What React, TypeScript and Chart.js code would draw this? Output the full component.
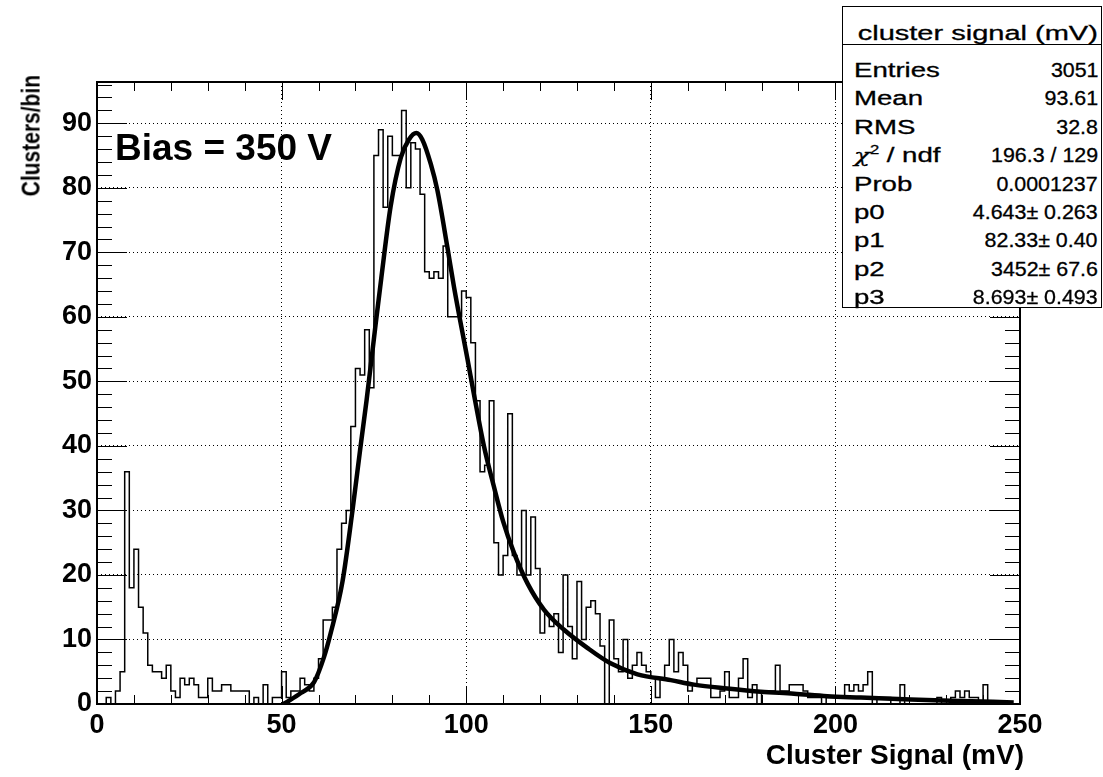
import React, { useEffect, useRef } from "react";
import { Chart, registerables } from "chart.js";

Chart.register(...registerables);

// ---------- data ----------
const binWidth = 1.25; // mV per bin, 200 bins from 0 to 250 mV
const counts: number[] = [
  0, 0, 0, 1, 0, 2, 5, 36, 18, 24,
  15, 11, 6, 5, 5, 4, 6, 2, 1, 4,
  3, 4, 3, 1, 1, 4, 2, 2, 3, 3,
  2, 2, 2, 2, 0, 1, 0, 3, 0, 1,
  1, 5, 1, 2, 2, 4, 3, 2, 4, 7,
  13, 13, 15, 24, 28, 30, 43, 52, 51, 58,
  49, 85, 89, 77, 88, 85, 85, 92, 80, 87,
  86, 79, 67, 66, 67, 66, 71, 60, 60, 60,
  64, 63, 56, 47, 36, 37, 47, 25, 20, 23,
  45, 23, 20, 30, 20, 29, 21, 11, 14, 12,
  14, 8, 20, 12, 7, 19, 10, 15, 16, 14,
  9, 0, 13, 7, 5, 10, 4, 6, 8, 6,
  5, 4, 1, 4, 6, 10, 5, 8, 6, 2,
  3, 4, 4, 4, 1, 1, 2, 5, 1, 1,
  4, 7, 1, 3, 0, 2, 2, 2, 6, 2,
  2, 3, 3, 3, 2, 1, 1, 1, 0, 1,
  1, 1, 1, 3, 2, 3, 2, 3, 5, 0,
  1, 1, 1, 0, 0, 3, 0, 0, 0, 0,
  0, 0, 0, 1, 0, 0, 1, 2, 1, 2,
  1, 1, 0, 3, 0, 0, 0, 0, 0, 0,
];

const fitX: number[] = [
  50.5, 52, 55.2, 58.8, 61.5, 63.3, 66.5, 69.2, 71.4, 73, 75.5, 77, 79.5, 82.3,
  84.5, 86.5, 88.1, 90.4, 92.2, 94.9, 96.7, 100.3, 102.1, 104.8, 107.5, 110,
  112.9, 116.6, 121.1, 126.5, 132.8, 139.1, 146.4, 155.4, 161.7, 170.7, 179.8,
  188.8, 197.8, 206.9, 220.4, 231.2, 248.3,
];
const fitY: number[] = [
  0, 0.5, 1.7, 3.4, 7.3, 11, 19, 30, 40, 47, 59, 66, 77, 84.7,
  87.5, 88.5, 87.5, 83.7, 79.6, 70.8, 64.6, 53.6, 48, 40, 33.7, 28.3,
  23.5, 18.7, 14.6, 11.5, 8.7, 6.3, 4.6, 3.7, 3.0, 2.4, 1.9,
  1.6, 1.2, 1.0, 0.7, 0.5, 0.25,
];

const xMin = 0;
const xMax = 250;
const yMin = 0;
const yMax = 96.4;
const xMajorStep = 50;
const xMinorStep = 10;
const yMajorStep = 10;
const yMinorStep = 2;

const xTitle = "Cluster Signal (mV)";
const yTitle = "Clusters/bin";
const annotation = "Bias = 350 V";
const statsTitle = "cluster signal (mV)";
const statsLabels: string[] = ["Entries", "Mean", "RMS", "CHI2", "Prob", "p0", "p1", "p2", "p3"];
const statsValues: string[] = [
  "3051", "93.61", "32.8", "196.3 / 129", "0.0001237",
  "4.643\u00b1 0.263", "82.33\u00b1 0.40", "3452\u00b1 67.6", "8.693\u00b1 0.493",
];

// ---------- plugin: ROOT-style frame and inward ticks ----------
const frameTicks = {
  id: "frameTicks",
  afterDatasetsDraw(chart: any) {
    const { ctx, chartArea: a, scales } = chart;
    const x = scales.x;
    const y = scales.y;
    ctx.save();
    ctx.strokeStyle = "#000";
    ctx.lineWidth = 1;
    ctx.beginPath();
    for (let v = yMin; v <= yMax + 1e-9; v += yMinorStep) {
      const py = Math.round(y.getPixelForValue(v)) + 0.5;
      const len = Math.abs(v % yMajorStep) < 1e-6 ? 30 : 15;
      ctx.moveTo(a.left, py);
      ctx.lineTo(a.left + len, py);
      ctx.moveTo(a.right, py);
      ctx.lineTo(a.right - len, py);
    }
    for (let v = xMin; v <= xMax + 1e-9; v += xMinorStep) {
      const px = Math.round(x.getPixelForValue(v)) + 0.5;
      const len = Math.abs(v % xMajorStep) < 1e-6 ? 18 : 9;
      ctx.moveTo(px, a.bottom);
      ctx.lineTo(px, a.bottom - len);
      ctx.moveTo(px, a.top);
      ctx.lineTo(px, a.top + len);
    }
    ctx.stroke();
    ctx.lineWidth = 2;
    ctx.strokeRect(a.left, a.top, a.right - a.left, a.bottom - a.top);
    ctx.restore();
  },
};

const tickFont = { family: "'Liberation Sans', Arial, sans-serif", size: 27, weight: "bold" as const };

function HistChart() {
  const ref = useRef<HTMLCanvasElement | null>(null);
  useEffect(() => {
    if (!ref.current) return;
    const histPoints = counts.map((c, i) => ({ x: i * binWidth, y: c }));
    histPoints.push({ x: counts.length * binWidth, y: counts[counts.length - 1] });
    const fitPoints = fitX.map((xv, i) => ({ x: xv, y: fitY[i] }));

    const chart = new Chart(ref.current, {
      type: "line",
      data: {
        datasets: [
          {
            label: "fit",
            data: fitPoints,
            borderColor: "#000",
            borderWidth: 4.5,
            pointRadius: 0,
            cubicInterpolationMode: "monotone",
            fill: false,
          },
          {
            label: "cluster signal",
            data: histPoints,
            borderColor: "#000",
            borderWidth: 1.5,
            pointRadius: 0,
            stepped: "after",
            fill: false,
          },
        ],
      },
      options: {
        responsive: false,
        animation: false,
        devicePixelRatio: 1,
        layout: { padding: { top: 82, right: 83, left: 0, bottom: 0 } },
        plugins: { legend: { display: false }, tooltip: { enabled: false } },
        scales: {
          x: {
            type: "linear",
            min: xMin,
            max: xMax,
            afterFit: (s: any) => { s.height = 73; },
            ticks: {
              stepSize: xMajorStep,
              color: "#000",
              font: tickFont,
              padding: 5,
              maxRotation: 0,
              includeBounds: false,
            },
            grid: { color: "#000", lineWidth: 1, drawTicks: false },
            border: { display: false, dash: [1, 3] },
          },
          y: {
            type: "linear",
            min: yMin,
            max: yMax,
            afterFit: (s: any) => { s.width = 97; },
            ticks: {
              stepSize: yMajorStep,
              color: "#000",
              font: tickFont,
              padding: 5,
              includeBounds: false,
            },
            grid: { color: "#000", lineWidth: 1, drawTicks: false },
            border: { display: false, dash: [1, 3] },
          },
        },
      },
      plugins: [frameTicks],
    });
    return () => chart.destroy();
  }, []);
  return <canvas ref={ref} width={1103} height={777} style={{ display: "block" }} />;
}

const sans = "'Liberation Sans', Arial, Helvetica, sans-serif";

function StatsBox() {
  const top = 6;
  const rowCenter0 = 69;
  const rowStep = 28.4;
  return (
    <div
      style={{
        position: "absolute",
        left: 842,
        top: top,
        width: 260,
        height: 302,
        border: "1.5px solid #000",
        boxSizing: "border-box",
        background: "#fff",
        fontFamily: sans,
        fontSize: 20,
        color: "#000",
        WebkitTextStroke: "0.3px #000",
      }}
    >
      <div
        style={{
          position: "absolute",
          left: 0,
          right: 0,
          top: 14,
          height: 24,
          lineHeight: "24px",
          textAlign: "center",
          whiteSpace: "nowrap",
        }}
      >
        <span style={{ display: "inline-block", transform: "translateX(6px) scaleX(1.45)" }}>{statsTitle}</span>
      </div>
      <div style={{ position: "absolute", left: 0, right: 0, top: 37, borderTop: "1.5px solid #000" }} />
      {statsLabels.map((lab, k) => (
        <div
          key={lab}
          style={{
            position: "absolute",
            left: 11,
            right: 3,
            top: rowCenter0 - top - 14 + k * rowStep,
            height: 28,
            lineHeight: "28px",
            whiteSpace: "nowrap",
          }}
        >
          <span
            style={{
              position: "absolute",
              left: 0,
              top: 0,
              display: "inline-block",
              transformOrigin: "left center",
              transform: "scaleX(1.38)",
            }}
          >
            {lab === "CHI2" ? (
              <>
                <i style={{ fontFamily: "'DejaVu Serif', serif", fontSize: 19 }}>{"\u03c7"}</i>
                <span style={{ fontSize: 12, position: "relative", top: -8 }}>2</span>
                {" / ndf"}
              </>
            ) : (
              lab
            )}
          </span>
          <span
            style={{
              position: "absolute",
              right: 0,
              top: 0,
              display: "inline-block",
              transformOrigin: "right center",
              transform: "scaleX(1.07)",
            }}
          >
            {statsValues[k]}
          </span>
        </div>
      ))}
    </div>
  );
}

export default function App() {
  return (
    <div
      style={{
        position: "absolute",
        left: 0,
        top: 0,
        width: 1103,
        height: 777,
        background: "#fff",
        overflow: "hidden",
      }}
    >
      <HistChart />
      <div
        style={{
          position: "absolute",
          left: 18,
          top: 75,
          width: 26,
          lineHeight: "26px",
          writingMode: "vertical-rl",
          transform: "rotate(180deg) scaleX(1.2)",
          fontFamily: sans,
          fontWeight: "bold",
          fontSize: 21,
          whiteSpace: "nowrap",
        }}
      >
        {yTitle}
      </div>
      <div
        style={{
          position: "absolute",
          right: 1103 - 1024,
          top: 740,
          lineHeight: "30px",
          fontFamily: sans,
          fontWeight: "bold",
          fontSize: 28,
          whiteSpace: "nowrap",
        }}
      >
        {xTitle}
      </div>
      <div
        style={{
          position: "absolute",
          left: 115,
          top: 129,
          lineHeight: "37px",
          fontFamily: sans,
          fontWeight: "bold",
          fontSize: 37,
          whiteSpace: "nowrap",
        }}
      >
        {annotation}
      </div>
      <StatsBox />
    </div>
  );
}
